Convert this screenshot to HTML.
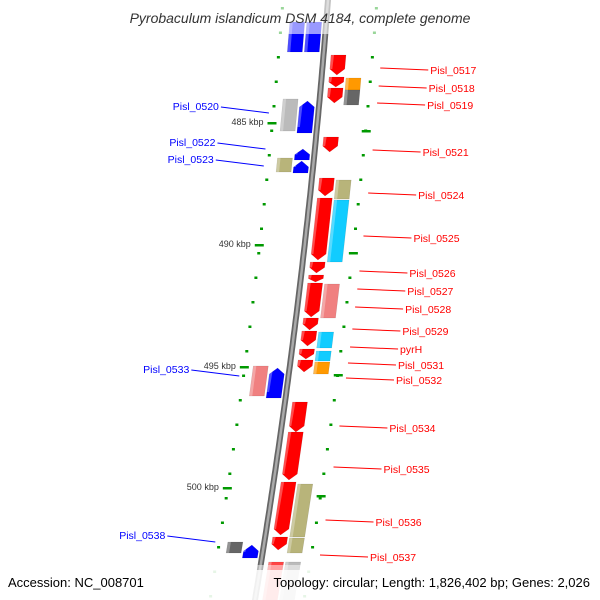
<!DOCTYPE html>
<html><head><meta charset="utf-8"><style>
body{margin:0;background:#fff;}
svg{display:block;font-family:"Liberation Sans",sans-serif;}
</style></head><body>
<svg id="map" width="600" height="600" viewBox="0 0 600 600" xmlns="http://www.w3.org/2000/svg">
<defs>
<linearGradient id="bb" x1="0" x2="1"><stop offset="0" stop-color="#777"/><stop offset="0.5" stop-color="#bbb"/><stop offset="1" stop-color="#888"/></linearGradient>
</defs>
<g id="dots"></g>
<g id="backbone"></g>
<g id="genes"></g>
<g id="labels"></g>
<text x="300" y="23" text-anchor="middle" font-size="14" font-style="italic" fill="#333">Pyrobaculum islandicum DSM 4184, complete genome</text>
<rect x="0" y="570" width="600" height="30" fill="#fff" opacity="0.8"/>
<text x="8" y="587" font-size="13" fill="#000">Accession: NC_008701</text>
<text x="590" y="587" text-anchor="end" font-size="13" fill="#000">Topology: circular; Length: 1,826,402 bp; Genes: 2,026</text>
</svg>
<script>
// gene data: start y, end y, track (-2,-1 left; 1,2 right), color, arrow direction (1 down,-1 up,0 none)
const geneStart=[22,22,55,77,88,78,90,99,101,137,149,161,158,178,180,198,200,262,275,283,284,318,331,332,349,351,360,362,366,368,402,432,482,484,538,537,542,545,562,562];
const geneEnd=[52,52,75,87,103,90,105,131,133,152,160,173,172,196,199,260,262,273,282,317,318,330,346,348,359,361,372,374,396,398,432,480,535,537,553,550,553,558,600,600];
const geneTrack=[-2,-1,1,1,1,2,2,-2,-1,1,-1,-1,-2,1,2,1,2,1,1,1,2,1,1,2,1,2,1,2,-2,-1,1,1,1,2,2,1,-2,-1,1,2];
const geneColor=["#00f","#00f","#f00","#f00","#f00","#f90","#666","#bbb","#00f","#f00","#00f","#00f","#b8b47a","#f00","#b8b47a","#f00","#1cf","#f00","#f00","#f00","#f08080","#f00","#f00","#1cf","#f00","#1cf","#f00","#f90","#f08080","#00f","#f00","#f00","#f00","#b8b47a","#b8b47a","#f00","#666","#00f","#f44","#bbb"];
const geneDir=[0,0,1,1,1,0,0,0,-1,1,-1,-1,0,1,0,1,0,1,1,1,0,1,1,0,1,0,1,0,0,-1,1,1,1,0,0,1,0,-1,0,0];
const rightNames=["Pisl_0517","Pisl_0518","Pisl_0519","Pisl_0521","Pisl_0524","Pisl_0525","Pisl_0526","Pisl_0527","Pisl_0528","Pisl_0529","pyrH","Pisl_0531","Pisl_0532","Pisl_0534","Pisl_0535","Pisl_0536","Pisl_0537"];
const rightY=[70,88,105,152,195,238,273,291,309,331,349,365,380,428,469,522,557];
const leftNames=["Pisl_0520","Pisl_0522","Pisl_0523","Pisl_0533","Pisl_0538"];
const leftY=[107,143,160,370,536];
const kbpLabels=["485 kbp","490 kbp","495 kbp","500 kbp"];
const kbpY=[122,244,366,487];

const NS="http://www.w3.org/2000/svg";
function bx(y){return 328-0.077*y-7.45e-5*y*y;}
const trackOff={"-2":-29,"-1":-12,"1":15,"2":32};
const svg=document.getElementById('map');
function mk(tag,parent,attrs){const e=document.createElementNS(NS,tag);for(const k in attrs)e.setAttribute(k,attrs[k]);parent.appendChild(e);return e;}

// backbone
const bg=document.getElementById('backbone');
let d="";for(let y=-5;y<=605;y+=5){d+=(y===-5?"M":"L")+bx(y).toFixed(1)+","+y+" ";}
const bl=mk('path',bg,{d:d,stroke:"#666",'stroke-width':6,fill:"none"});


const bl2=mk('path',bg,{d:d,stroke:"#aaa",'stroke-width':2.5,fill:"none"});



// dots
const dg=document.getElementById('dots');
for(let y=8;y<600;y+=24.5){
 for(const off of [-45,49]){
  const r=mk('rect',dg,{x:bx(y)+off-1.5,y:y-1,width:3,height:2.5,fill:"#090"});
  
  
 }
}
// major ticks
for(let i=0;i<kbpY.length;i++){
 const y=kbpY[i];
 const t=mk('rect',dg,{x:bx(y)-50,y:y,width:9,height:2.5,fill:"#090"});
 
 
 const t2=mk('rect',dg,{x:bx(y+8)+45,y:y+8,width:9,height:2.5,fill:"#090"});
 
 
 const tx=mk('text',dg,{x:bx(y)-54,y:y+3,'text-anchor':'end','font-size':9,fill:"#333"});
 tx.textContent=kbpLabels[i];
 
 
}

// genes
const gg=document.getElementById('genes');
for(let i=0;i<geneStart.length;i++){
 const s=geneStart[i],e=geneEnd[i],off=trackOff[geneTrack[i]],w=7.5,dir=geneDir[i];
 const c=(y)=>bx(y)+off;
 let pts=[];
 const h=Math.min(6,(e-s)*0.5);
 if(dir===1){
  pts=[[c(s)-w,s],[c(s)+w,s],[c(e-h)+w,e-h],[c(e),e],[c(e-h)-w,e-h]];
 }else if(dir===-1){
  pts=[[c(s),s],[c(s+h)+w,s+h],[c(e)+w,e],[c(e)-w,e],[c(s+h)-w,s+h]];
 }else{
  pts=[[c(s)-w,s],[c(s)+w,s],[c(e)+w,e],[c(e)-w,e]];
 }
 const p=mk('polygon',gg,{points:pts.map(q=>q[0].toFixed(1)+","+q[1]).join(" "),fill:geneColor[i],stroke:"rgba(0,0,0,0.15)",'stroke-width':0.5});
 
 
 const sh=mk('polygon',gg,{points:[[c(s)-w,s],[c(s)-w+3,s],[c(e)-w+3,e-(dir?h:0)],[c(e)-w,e-(dir?h:0)]].map(q=>q[0].toFixed(1)+","+q[1]).join(" "),fill:"rgba(255,255,255,0.3)"});
 
 
}
// fade top/bottom
const f1=mk('rect',gg,{x:0,y:0,width:600,height:34,fill:"#fff",opacity:0.6});


const f2=mk('rect',gg,{x:0,y:565,width:600,height:35,fill:"#fff",opacity:0.5});



// labels
const lg=document.getElementById('labels');
for(let i=0;i<rightNames.length;i++){
 const y=rightY[i],x0=bx(y)+58,x1=x0+48;
 const l=mk('line',lg,{x1:x0,y1:y-2,x2:x1,y2:y,stroke:"#f00",'stroke-width':1});
 
 
 const t=mk('text',lg,{x:x1+2,y:y+4,'font-size':10.5,fill:"#f00"});
 t.textContent=rightNames[i];
 
 
}
for(let i=0;i<leftNames.length;i++){
 const y=leftY[i],x0=bx(y)-50,x1=x0-48;
 const l=mk('line',lg,{x1:x0,y1:y+6,x2:x1,y2:y,stroke:"#00f",'stroke-width':1});
 
 
 const t=mk('text',lg,{x:x1-2,y:y+3,'text-anchor':'end','font-size':10.5,fill:"#00f"});
 t.textContent=leftNames[i];
 
 
}
</script>
</body></html>
